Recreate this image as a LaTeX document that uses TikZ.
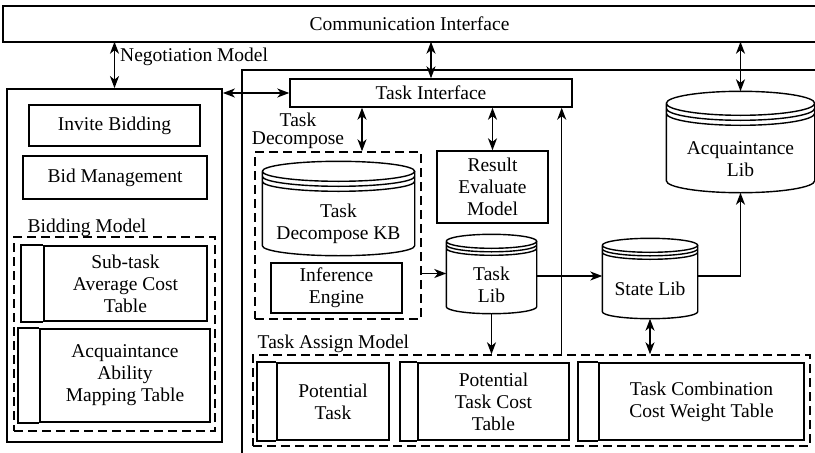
\documentclass[tikz,border=0pt]{standalone}
\usepackage{fontspec}
\setmainfont{Liberation Serif}
\usetikzlibrary{positioning, arrows.meta, calc}

\newcommand{\dbcylinder}[3]{%
  \draw let \p1=(#1.north west), \p2=(#1.south east),
        \n1={(\x2-\x1)/2}, \n2={\y1+2*#3pt+#2pt}, \n3={\n2-#3pt}, \n4={\n2-2*#3pt}, \n5={\y2+#2pt} in
    (\x1,\n2) arc[start angle=180, end angle=-180, x radius=\n1, y radius=#2pt]
    (\x1,\n3) arc[start angle=180, end angle=360, x radius=\n1, y radius=#2pt]
    (\x1,\n4) arc[start angle=180, end angle=360, x radius=\n1, y radius=#2pt]
    (\x1,\n2) -- (\x1,\n5) arc[start angle=180, end angle=360, x radius=\n1, y radius=#2pt]
    -- (\x2,\n2);
}

\begin{document}
\begin{tikzpicture}[x=1pt, y=-1pt, line width=1.4pt,
    >={Stealth[length=12pt, width=9pt, inset=3.5pt]},
    every node/.style={font=\fontsize{19.5}{22}\selectfont, inner sep=0pt},
    box/.style={draw, align=center},
    frame/.style={draw, line width=1.8pt},
    tbl/.style={draw, line width=1.6pt, align=center},
    group/.style={draw, dash pattern=on 9pt off 5pt, line width=1.4pt},
    db/.style={align=center}]

    \useasboundingbox (0,0) rectangle (815,453);
    \clip (0,0) rectangle (815,453);

    \node[minimum width=811pt, minimum height=34pt] (comm) at (409.5,24) {Communication Interface};
    \draw[frame] (comm.north east) -- (comm.north west) -- (comm.south west) -- (comm.south east);
    \draw[frame] (815,70) -- (242,70) -- (242,453);

    \node[frame, minimum width=215pt, minimum height=353pt] (bidagent) at (114.5,265.5) {};
    \node[box, minimum width=171pt, minimum height=41pt] (invite) at (114.5,125.5) {Invite Bidding};
    \node[box, minimum width=184pt, minimum height=43pt] (bidmgmt) at (115,177.5) {Bid Management};
    \node[anchor=base west] (bidlabel) at (27,232) {Bidding Model};
    \node[group, minimum width=201pt, minimum height=194pt] (bidgroup) at (114.5,334) {};
    \node[tbl, minimum width=163pt, minimum height=75pt] (subtask) at (125.5,283.5) {Sub-task\\Average Cost\\Table};
    \node[tbl, minimum width=170pt, minimum height=93pt] (abilitymap) at (125,375.5) {Acquaintance\\Ability\\Mapping Table};

    \node[box, minimum width=282pt, minimum height=28pt] (taskif) at (431,93) {Task Interface};
    \node[align=center] (tdlabel) at (298,131) {Task\\[-4pt]Decompose};
    \node[group, minimum width=166pt, minimum height=167pt] (tdgroup) at (338,235.5) {};
    \node[db, minimum width=151pt, minimum height=63pt] (tdkb) at (338.5,223.5) {Task\\Decompose KB};
    \node[box, minimum width=131pt, minimum height=50pt] (infer) at (336.5,288) {Inference\\Engine};
    \node[box, minimum width=111pt, minimum height=72pt] (result) at (492.5,187) {Result\\Evaluate\\Model};
    \node[db, minimum width=89pt, minimum height=57pt] (tasklib) at (491.5,284.5) {Task\\Lib};
    \node[db, minimum width=94pt, minimum height=58pt] (statelib) at (650,289) {State Lib};
    \node[db, minimum width=147pt, minimum height=66pt] (acqlib) at (740.5,159) {Acquaintance\\Lib};

    \node[anchor=base west] (tamlabel) at (257,348) {Task Assign Model};
    \node[group, minimum width=557pt, minimum height=91pt] (tamgroup) at (531.5,400.5) {};
    \node[tbl, minimum width=112pt, minimum height=77pt] (pottask) at (333,401.5) {Potential\\Task};
    \node[tbl, minimum width=151pt, minimum height=77pt] (potcost) at (493.5,401.5) {Potential\\Task Cost\\Table};
    \node[tbl, minimum width=205pt, minimum height=77pt] (combweight) at (701.5,401.5) {Task Combination\\Cost Weight Table};

    \foreach \t/\w in {subtask/22, abilitymap/21, pottask/19, potcost/17, combweight/20}
        \draw[line width=1.6pt] (\t.north west) -- ++(-\w,0) |- (\t.south west);
    \foreach \c/\r/\g in {tdkb/10/5, tasklib/7/3.5, statelib/7/3.5, acqlib/12/5}
        \dbcylinder{\c}{\r}{\g};

    \coordinate (acqtop) at ([yshift=34pt]acqlib.north);
    \coordinate (tdin) at ([xshift=24pt]tdgroup.north);
    \coordinate (tlin) at ([yshift=11pt]tasklib.west);
    \coordinate (slin) at ([yshift=13pt]statelib.west);
    \coordinate (fb) at ([xshift=-11pt]taskif.south east);

    \draw[<->] (bidagent.north |- comm.south) -- node[pos=0.33, right=5pt] (negolabel) {Negotiation Model} (bidagent.north);
    \draw[<->] (taskif.north |- comm.south) -- (taskif.north);
    \draw[<->] (acqtop |- comm.south) -- (acqtop);
    \draw[<->] (bidagent.east |- taskif.west) -- (taskif.west);
    \draw[<->] (tdin |- taskif.south) -- (tdin);
    \draw[<->] (result.north |- taskif.south) -- (result.north);
    \draw[->] (tlin -| tdgroup.east) -- (tlin);
    \draw[->] (slin -| tasklib.east) -- (slin);
    \draw[->] (slin -| statelib.east) -| (acqlib.south);
    \draw[->] (tasklib.south) -- (tasklib.south |- tamgroup.north);
    \draw[->] (fb |- tamgroup.north) -- (fb);
    \draw[<->] (statelib.south) -- (statelib.south |- tamgroup.north);
\end{tikzpicture}
\end{document}
